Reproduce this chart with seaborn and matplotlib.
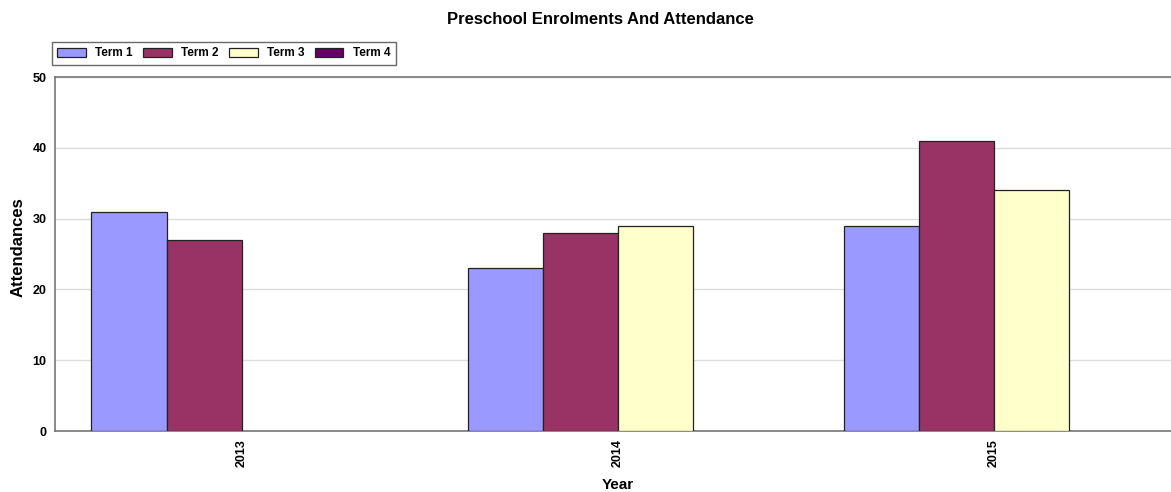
import matplotlib
matplotlib.use("Agg")
import matplotlib.pyplot as plt
from matplotlib.patches import Patch
import pandas as pd
import seaborn as sns

years = ["2013", "2014", "2015"]
terms = ["Term 1", "Term 2", "Term 3", "Term 4"]
term1 = [31, 23, 29]
term2 = [27, 28, 41]
term3 = [0, 29, 34]
term4 = [0, 0, 0]
colors = ["#9999FF", "#993366", "#FFFFCC", "#660066"]

rows = []
for term, vals in zip(terms, [term1, term2, term3, term4]):
    for y, v in zip(years, vals):
        rows.append({"Year": y, "Term": term, "Attendances": v})
df = pd.DataFrame(rows)

sns.set_theme(style="white")
plt.rcParams["font.family"] = ["Liberation Sans", "DejaVu Sans"]
plt.rcParams["text.color"] = "#000000"
plt.rcParams["axes.labelcolor"] = "#000000"

fig = plt.figure(figsize=(11.71, 4.92), dpi=100)
ax = fig.add_axes([55 / 1171, 1 - 431 / 492, 1126 / 1171, 354 / 492])

sns.barplot(data=df, x="Year", y="Attendances", hue="Term", order=years,
            hue_order=terms, palette=colors, width=0.8, edgecolor="#222222",
            linewidth=0.9, saturation=1, ax=ax, legend=False, zorder=3)

# empty bars should leave no outline on the baseline
for p in ax.patches:
    if p.get_height() == 0:
        p.set_linewidth(0)

ax.set_ylim(0, 50)
ax.set_xlim(-0.497, 2.497)
ax.set_yticks([0, 10, 20, 30, 40, 50])
ax.yaxis.grid(True, color="#dddddd", linewidth=1, zorder=0)
ax.set_axisbelow(True)
for side in ["left", "bottom", "top"]:
    ax.spines[side].set_color("#777777")
    ax.spines[side].set_linewidth(1.2)
ax.spines["right"].set_visible(False)
ax.tick_params(axis="both", length=0, labelsize=9, colors="#000000", pad=6)
for lbl in ax.get_yticklabels():
    lbl.set_fontweight("bold")
for lbl in ax.get_xticklabels():
    lbl.set_fontweight("bold")
    lbl.set_rotation(90)
ax.set_xlabel("Year", fontsize=11, fontweight="bold")
ax.xaxis.set_label_coords((618 - 55) / 1126, -(485 - 431) / 354)
ax.xaxis.label.set_va("center")
ax.set_ylabel("Attendances", fontsize=12, fontweight="bold")
ax.yaxis.set_label_coords(-(55 - 18) / 1126, (431 - 247) / 354)
ax.yaxis.label.set_va("center")

fig.text(600 / 1171, 1 - 20 / 492, "Preschool Enrolments And Attendance",
         ha="center", va="center", fontsize=12, fontweight="bold",
         color="#000000")

handles = [Patch(facecolor=c, edgecolor="#222222", linewidth=0.9, label=t)
           for t, c in zip(terms, colors)]
leg = fig.legend(handles=handles, loc="upper left",
                 bbox_to_anchor=(52 / 1171, 1 - 42 / 492), ncol=4,
                 frameon=True, fancybox=False,
                 prop={"weight": "bold", "size": 8.5},
                 handlelength=2.4, handleheight=0.75, handletextpad=0.8,
                 columnspacing=0.9, borderpad=0.45, borderaxespad=0)
leg.get_frame().set_edgecolor("#444444")
leg.get_frame().set_linewidth(1.0)
for t in leg.get_texts():
    t.set_color("#000000")

fig.savefig("out.png", dpi=100)
